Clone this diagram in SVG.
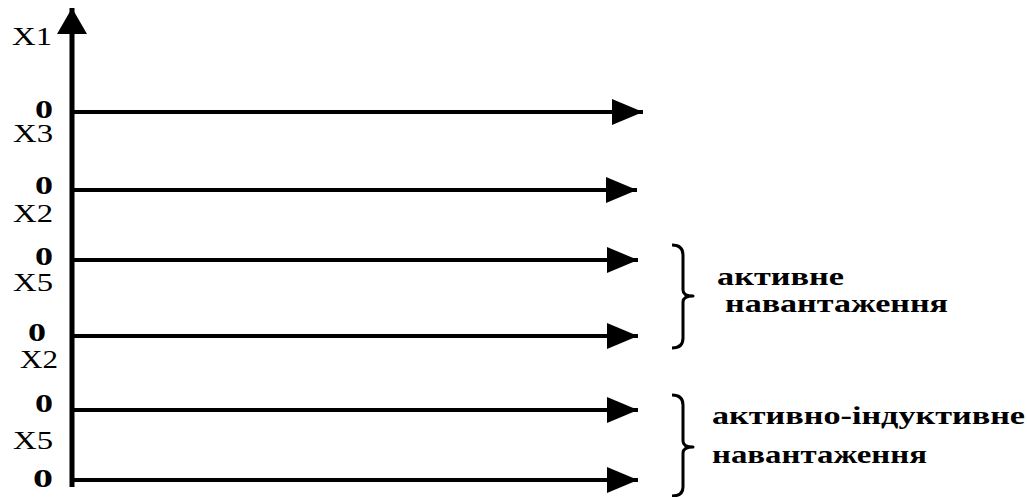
<svg xmlns="http://www.w3.org/2000/svg" width="1027" height="497" viewBox="0 0 1027 497">
<style>
.ax{stroke:#000;stroke-width:5;fill:none}
.ln{stroke:#000;stroke-width:4;fill:none}
.br{stroke:#000;stroke-width:3;fill:none;stroke-linejoin:round}
.lb{font-family:"Liberation Serif","Times New Roman",serif;font-size:25px;fill:#000}
.z{font-weight:bold}
.tx{font-family:"Liberation Serif","Times New Roman",serif;font-size:26px;font-weight:bold;fill:#000}
</style>
<defs>
<marker id="ah" viewBox="0 0 31 26" refX="31" refY="13" markerWidth="31" markerHeight="26" markerUnits="userSpaceOnUse" orient="auto">
<path d="M0,0 L31,13 L0,26 Z" fill="#000"/>
</marker>
<marker id="av" viewBox="0 0 26 30" refX="26" refY="15" markerWidth="26" markerHeight="30" markerUnits="userSpaceOnUse" orient="auto">
<path d="M0,0 L26,15 L0,30 Z" fill="#000"/>
</marker>
</defs>
<g id="connectors">
<line class="ax" x1="72" y1="487" x2="72" y2="8" marker-end="url(#av)"/>
<line class="ln" x1="72" y1="112" x2="643" y2="112" marker-end="url(#ah)"/>
<line class="ln" x1="72" y1="190" x2="637" y2="190" marker-end="url(#ah)"/>
<line class="ln" x1="72" y1="260" x2="638" y2="260" marker-end="url(#ah)"/>
<line class="ln" x1="72" y1="336" x2="638" y2="336" marker-end="url(#ah)"/>
<line class="ln" x1="72" y1="410" x2="638" y2="410" marker-end="url(#ah)"/>
<line class="ln" x1="72" y1="480" x2="638" y2="480" marker-end="url(#ah)"/>
</g>
<g id="labels">
<text class="lb" x="12" y="45" textLength="40" lengthAdjust="spacingAndGlyphs">X1</text>
<text class="lb z" x="35" y="118" textLength="18" lengthAdjust="spacingAndGlyphs">0</text>
<text class="lb" x="13" y="142" textLength="40" lengthAdjust="spacingAndGlyphs">X3</text>
<text class="lb z" x="35" y="194" textLength="18" lengthAdjust="spacingAndGlyphs">0</text>
<text class="lb" x="13" y="222" textLength="40" lengthAdjust="spacingAndGlyphs">X2</text>
<text class="lb z" x="35" y="265" textLength="18" lengthAdjust="spacingAndGlyphs">0</text>
<text class="lb" x="13" y="291" textLength="40" lengthAdjust="spacingAndGlyphs">X5</text>
<text class="lb z" x="28" y="341" textLength="18" lengthAdjust="spacingAndGlyphs">0</text>
<text class="lb" x="20" y="368" textLength="38" lengthAdjust="spacingAndGlyphs">X2</text>
<text class="lb z" x="35" y="412" textLength="18" lengthAdjust="spacingAndGlyphs">0</text>
<text class="lb" x="13" y="449" textLength="40" lengthAdjust="spacingAndGlyphs">X5</text>
<text class="lb z" x="33" y="487" textLength="20" lengthAdjust="spacingAndGlyphs">0</text>
</g>
<g id="brace1">
<path class="br" d="M672,245 Q683,245 683,255 L683,290 Q683,296 693,296 Q683,296 683,302 L683,338 Q683,348 672,348"/>
<text class="tx" x="717" y="285" textLength="127" lengthAdjust="spacingAndGlyphs">активне</text>
<text class="tx" x="725" y="312" textLength="223" lengthAdjust="spacingAndGlyphs">навантаження</text>
</g>
<g id="brace2">
<path class="br" d="M672,395 Q683,395 683,405 L683,441 Q683,447 693,447 Q683,447 683,453 L683,487 Q683,496 672,496"/>
<text class="tx" x="712" y="424" textLength="313" lengthAdjust="spacingAndGlyphs">активно-індуктивне</text>
<text class="tx" x="712" y="463" textLength="215" lengthAdjust="spacingAndGlyphs">навантаження</text>
</g>
</svg>
